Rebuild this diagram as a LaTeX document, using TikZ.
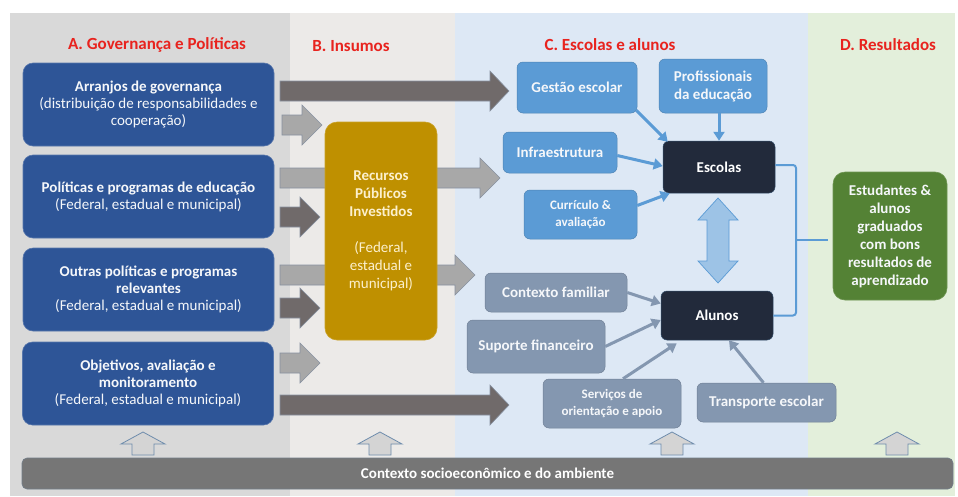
\documentclass[tikz,border=0pt]{standalone}
\usepackage{fontspec}
\setmainfont{Carlito}
\usetikzlibrary{arrows.meta,calc}
\definecolor{panA}{RGB}{217,217,217}
\definecolor{panB}{RGB}{236,234,232}
\definecolor{panC}{RGB}{221,232,245}
\definecolor{panD}{RGB}{227,239,219}
\definecolor{navyb}{RGB}{46,85,151}
\definecolor{goldb}{RGB}{191,144,0}
\definecolor{lblue}{RGB}{91,155,213}
\definecolor{gblue}{RGB}{132,151,176}
\definecolor{dnavy}{RGB}{34,42,59}
\definecolor{resgreen}{RGB}{84,130,53}
\definecolor{darr}{RGB}{112,106,106}
\definecolor{larr}{RGB}{168,168,168}
\definecolor{arroutl}{RGB}{135,145,160}
\definecolor{headred}{RGB}{232,35,30}
\definecolor{barg}{RGB}{118,118,118}
\definecolor{dblfill}{RGB}{157,195,230}
\definecolor{upfill}{RGB}{212,212,212}
\definecolor{upoutl}{RGB}{110,140,172}
\definecolor{txtw}{RGB}{245,247,250}
\definecolor{goldtxt}{RGB}{252,240,205}
\newcommand{\blockarr}[5]{%
  \path[#1] ({#2},{#5-10}) -- ({#3},{#5-10}) -- ({#3},{#5-20}) -- ({#4},{#5})
    -- ({#3},{#5+20}) -- ({#3},{#5+10}) -- ({#2},{#5+10}) -- cycle;}
\newcommand{\upblk}[1]{%
  \path[upshape] ({#1-11},455) -- ({#1+11},455) -- ({#1+11},444) -- ({#1+22},444)
    -- ({#1},432) -- ({#1-22},444) -- ({#1-11},444) -- cycle;}
\begin{document}
\begin{tikzpicture}[x=1pt,y=-1pt,
  head/.style={text=headred,font=\fontsize{17}{19}\selectfont\bfseries,inner sep=0pt},
  boxbase/.style={inner sep=0pt,align=center,text=txtw},
  bluebox/.style={boxbase,fill=navyb,draw=navyb!80!white,line width=0.6pt,rounded corners=10pt,
    minimum width=251pt,minimum height=83pt,font=\fontsize{15}{17}\selectfont},
  goldbox/.style={boxbase,fill=goldb,draw=goldb!85!white,line width=0.6pt,rounded corners=12pt,
    text=goldtxt,font=\fontsize{15}{18}\selectfont},
  lbbox/.style={boxbase,fill=lblue,draw=lblue!85!black,line width=0.5pt,rounded corners=6pt,
    font=\fontsize{15}{18}\selectfont\bfseries},
  gbbox/.style={boxbase,fill=gblue,draw=gblue!85!black,line width=0.5pt,rounded corners=6pt,
    font=\fontsize{15}{18}\selectfont\bfseries},
  dkbox/.style={boxbase,fill=dnavy,draw=dnavy!70!lblue,line width=0.5pt,rounded corners=6pt,
    text=white,font=\fontsize{15}{18}\selectfont\bfseries},
  grbox/.style={boxbase,fill=resgreen,draw=resgreen!85!white,line width=0.6pt,rounded corners=12pt,
    font=\fontsize{15}{18}\selectfont\bfseries},
  smalltxt/.style={font=\fontsize{13}{16.5}\selectfont\bfseries},
  darkblk/.style={fill=darr,draw=arroutl,line width=0.6pt},
  lightblk/.style={fill=larr,draw=arroutl,line width=0.6pt},
  upshape/.style={fill=upfill,draw=upoutl,line width=0.8pt},
  bluearr/.style={draw=lblue,line width=3pt,-{Triangle[length=9pt,width=11pt]}},
  grayarr/.style={draw=gblue,line width=3pt,-{Triangle[length=9pt,width=11pt]}},
  bracket/.style={draw=lblue,line width=2pt,rounded corners=3pt}
]
\useasboundingbox (0,0) rectangle (958,496);
\fill[white] (0,0) rectangle (958,496);
% panels
\fill[panA] (10,13) rectangle (290,496);
\fill[panB] (290,13) rectangle (455,496);
\fill[panC] (455,13) rectangle (808,496);
\fill[panD] (808,13) rectangle (955,496);
% headings
\node[head] (hA) at (157,45) {A. Governança e Políticas};
\node[head] (hB) at (351,46) {B. Insumos};
\node[head] (hC) at (610,45) {C. Escolas e alunos};
\node[head] (hD) at (888,45) {D. Resultados};
% block arrows
\blockarr{darkblk}{280}{490}{509}{91}
\blockarr{lightblk}{282}{302}{322}{125}
\blockarr{lightblk}{280}{480}{500}{178}
\blockarr{darkblk}{280}{300}{320}{217}
\blockarr{lightblk}{280}{455}{475}{275}
\blockarr{darkblk}{280}{300}{320}{308}
\blockarr{lightblk}{280}{300}{320}{363}
\blockarr{darkblk}{280}{490}{509}{405}
% A column
\node[bluebox] (arr) at (148.5,104.5) {\textbf{Arranjos de governança}\\(distribuição de responsabilidades e\\cooperação)};
\node[bluebox] (pol) at (148.5,196.5) {\textbf{Políticas e programas de educação}\\(Federal, estadual e municipal)};
\node[bluebox] (out) at (148.5,289.5) {\textbf{Outras políticas e programas}\\\textbf{relevantes}\\(Federal, estadual e municipal)};
\node[bluebox] (obj) at (148,383.5) {\textbf{Objetivos, avaliação e}\\\textbf{monitoramento}\\(Federal, estadual e municipal)};
% B column
\node[goldbox,minimum width=112pt,minimum height=218pt] (rec) at (381,231)
  {\textbf{Recursos}\\\textbf{Públicos}\\\textbf{Investidos}\\[18pt](Federal,\\estadual e\\municipal)};
% C column
\node[lbbox,minimum width=120pt,minimum height=51pt] (gest) at (577,87.5) {Gestão escolar};
\node[lbbox,minimum width=108pt,minimum height=54pt] (prof) at (713,86) {Profissionais\\da educação};
\node[lbbox,minimum width=114pt,minimum height=41pt] (infra) at (560,152.5) {Infraestrutura};
\node[lbbox,minimum width=113pt,minimum height=49pt,smalltxt] (curr) at (580.5,214.5) {Currículo \&\\avaliação};
\node[dkbox,minimum width=112pt,minimum height=52pt] (esc) at (719,167) {Escolas};
\node[gbbox,minimum width=142pt,minimum height=39pt] (fam) at (556,292.5) {Contexto familiar};
\node[gbbox,minimum width=138pt,minimum height=53pt] (sup) at (536,346.5) {Suporte financeiro};
\node[gbbox,minimum width=138pt,minimum height=49pt,smalltxt] (serv) at (612,403.5) {Serviços de\\orientação e apoio};
\node[gbbox,minimum width=139pt,minimum height=39pt] (trans) at (766.5,402.5) {Transporte escolar};
\node[dkbox,minimum width=112pt,minimum height=49pt] (alu) at (717,315.5) {Alunos};
% D column
\node[grbox,minimum width=114pt,minimum height=128pt] (res) at (890,236)
  {Estudantes \&\\alunos\\graduados\\com bons\\resultados de\\aprendizado};
% double arrow between Escolas and Alunos
\path[fill=dblfill,draw=lblue,line width=0.7pt]
  (718,198) -- (738,220) -- (729,220) -- (729,261) -- (738,261) -- (718,283)
  -- (698,261) -- (707,261) -- (707,220) -- (698,220) -- cycle;
% connectors into Escolas
\draw[bluearr] ([shift={(-1pt,3pt)}]gest.south east) -- ([shift={(5pt,-1pt)}]esc.north west);
\draw[bluearr] (prof.south -| esc.north) -- (esc.north);
\draw[bluearr] ([yshift=-3pt]infra.east) -- ([yshift=1pt]esc.west);
\draw[bluearr] ([yshift=9pt]curr.east) -- ([xshift=7pt]esc.south west);
% connectors into Alunos
\draw[grayarr] (fam.east) -- ([yshift=12pt]alu.west);
\draw[grayarr] (sup.east) -- ([yshift=-4.5pt]alu.west);
\draw[grayarr] ([xshift=11pt]serv.north) -- ([shift={(16pt,-3pt)}]alu.south west);
\draw[grayarr] ([xshift=-3pt]trans.north) -- ([xshift=12pt]alu.south);
% bracket to results
\coordinate (bm) at (796,240);
\draw[bracket] ([yshift=2pt]esc.east) -| (bm) |- (alu.east);
\draw[bracket] (bm) -- ([xshift=-5pt]res.west |- bm);
% bottom context bar
\node[boxbase,fill=barg,draw=barg!80!lblue,line width=0.6pt,rounded corners=5pt,
  minimum width=931pt,minimum height=31pt,text=white,font=\fontsize{15}{17}\selectfont\bfseries]
  (ctx) at (487.5,473.5) {Contexto socioeconômico e do ambiente};
% small up arrows
\upblk{143}
\upblk{380}
\upblk{672}
\upblk{897}
\end{tikzpicture}
\end{document}
